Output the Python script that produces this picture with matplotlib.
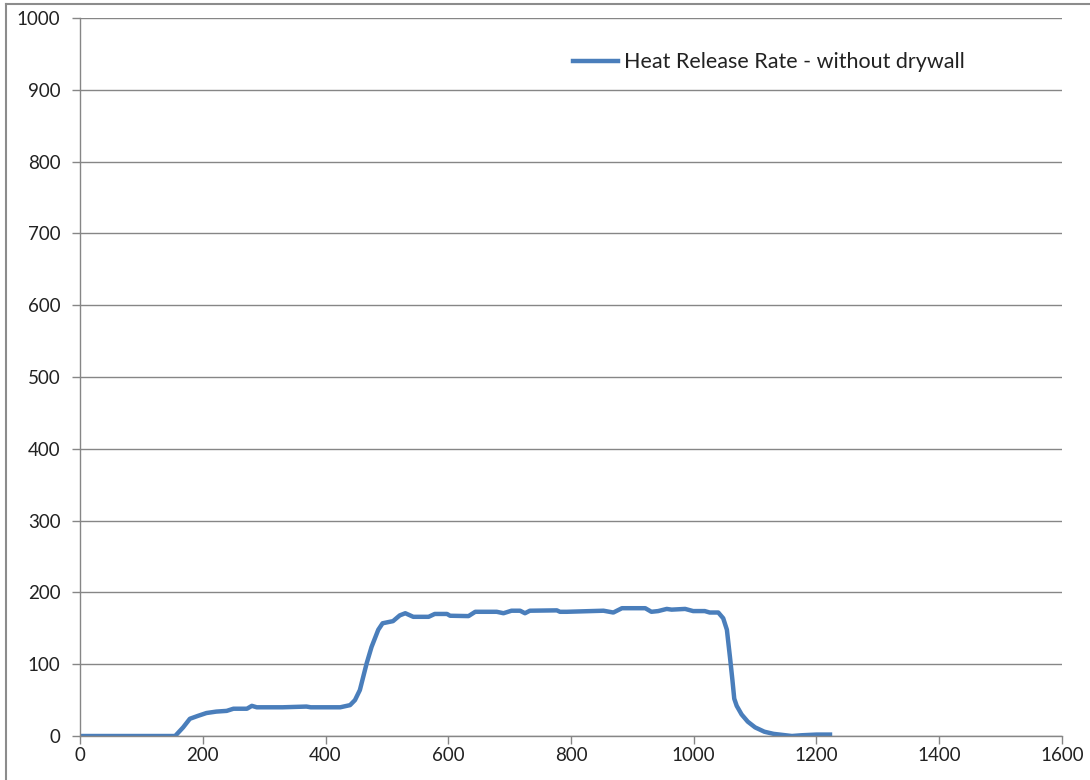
import matplotlib
matplotlib.use("Agg")
import matplotlib.pyplot as plt
from matplotlib.lines import Line2D

# Heat release rate readings (time, HRR).
time = [0, 100, 155, 168, 179, 192, 206, 222, 239, 250, 272, 280, 288, 330, 369, 376, 424, 440, 448,
        456, 467, 475, 486, 493, 510, 521, 530, 543, 568, 578, 598, 603, 633, 644, 679, 690, 703,
        717, 725, 733, 777, 782, 793, 853, 869, 883, 921, 931, 942, 956, 964, 986, 999, 1018,
        1026, 1040, 1048, 1054, 1059, 1063, 1066, 1070, 1078, 1088, 1100, 1115, 1130, 1150, 1160, 1175, 1200, 1222]
hrr = [0, 0, 0, 12, 24, 28, 32, 34, 35, 38, 38, 42, 40, 40, 41, 40, 40, 43, 50,
       64, 101, 124, 148, 157, 160, 168, 171, 166, 166, 170, 170, 167.5, 167, 173, 173, 171, 174.5,
       174.5, 171, 174.5, 175, 173, 173, 174.5, 172, 178, 178, 173, 174, 177, 176, 177, 174, 174,
       172, 172, 164, 148, 110, 78, 52, 42, 30, 20, 12, 6, 3, 1, 0, 1, 2, 2]

series_label = "Heat Release Rate - without drywall"
x_ticks = list(range(0, 1601, 200))
y_ticks = list(range(0, 1001, 100))

plt.rcParams["font.family"] = ["Lato", "DejaVu Sans"]

fig = plt.figure(figsize=(10.9, 7.8), dpi=100)
ax = fig.add_axes([0.0734, 0.0564, 0.9009, 0.9205])

grid_col = "#868686"
ax.plot(time, hrr, color="#4A7EBB", lw=3.2, label=series_label, solid_joinstyle="round")

ax.set_xlim(0, 1600)
ax.set_ylim(0, 1000)
ax.set_xticks(x_ticks)
ax.set_yticks(y_ticks)
ax.yaxis.grid(True, color=grid_col, lw=1)
ax.set_axisbelow(True)

for side in ["top", "right"]:
    ax.spines[side].set_visible(False)
for side in ["left", "bottom"]:
    ax.spines[side].set_color(grid_col)
    ax.spines[side].set_linewidth(1)

ax.tick_params(axis="both", direction="out", length=6, width=1, color=grid_col,
               labelsize=13.5, labelcolor="#222222")
ax.tick_params(axis="y", pad=8)
ax.tick_params(axis="x", pad=2)

leg = ax.legend(loc="upper left", bbox_to_anchor=(0.502, 0.952), frameon=False,
                fontsize=15.5, handlelength=2.1, handletextpad=0.25,
                borderpad=0, borderaxespad=0)
for t in leg.get_texts():
    t.set_color("#222222")

# outer chart border (left and top edges visible)
fig.add_artist(Line2D([6 / 1090, 6 / 1090], [0, 1 - 4 / 780], color="#8c8c8c", lw=1.5))
fig.add_artist(Line2D([6 / 1090, 1], [1 - 4 / 780, 1 - 4 / 780], color="#8c8c8c", lw=1.5))

fig.savefig("out.png", dpi=100)
